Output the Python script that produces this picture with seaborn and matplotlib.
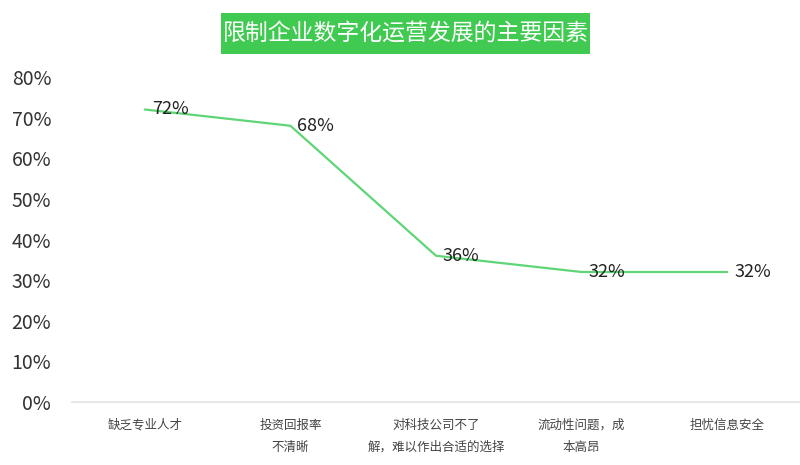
import numpy as np
import pandas as pd
import matplotlib
matplotlib.use('Agg')
import matplotlib.pyplot as plt
from matplotlib.patches import Rectangle
import seaborn as sns

# Chart data
factors = ['缺乏专业人才', '投资回报率不清晰', '对科技公司不了解，难以作出合适的选择',
           '流动性问题，成本高昂', '担忧信息安全']
tick_labels = ['缺乏专业人才', '投资回报率\n不清晰', '对科技公司不了\n解，难以作出合适的选择',
               '流动性问题，成\n本高昂', '担忧信息安全']
shares = [0.72, 0.68, 0.36, 0.32, 0.32]
y_ticks = [0.0, 0.1, 0.2, 0.3, 0.4, 0.5, 0.6, 0.7, 0.8]
title = '限制企业数字化运营发展的主要因素'

sns.set_theme(style='white')
plt.rcParams['font.family'] = ['Noto Sans CJK SC', 'DejaVu Sans']

df = pd.DataFrame({'factor': factors, 'share': shares})

fig = plt.figure(figsize=(8, 4.65), dpi=100)
ax = fig.add_axes([72 / 800, 1 - 402 / 465, 728 / 800, (402 - 77) / 465])

sns.lineplot(data=df, x='factor', y='share', ax=ax, color='#5fd577', linewidth=1.6, sort=False)

# data labels
for i, v in enumerate(shares):
    ax.annotate(f'{v:.0%}', (i, v), xytext=(5, 0), textcoords='offset points',
                ha='left', va='center', fontsize=13, color='#222222')

ax.set_xlim(-0.5, 4.5)
ax.set_ylim(0, 0.8)
ax.set_yticks(y_ticks)
ax.set_yticklabels([f'{t:.0%}' for t in y_ticks], fontsize=14, color='#333333')
ax.set_xticks(range(len(factors)))
ax.set_xticklabels(tick_labels, fontsize=9, color='#444444', linespacing=1.9, va='top')
ax.tick_params(axis='y', length=0, pad=15)
ax.tick_params(axis='x', length=0, pad=12)
ax.set_xlabel('')
ax.set_ylabel('')

for side in ['top', 'right', 'left']:
    ax.spines[side].set_visible(False)
ax.spines['bottom'].set_color('#e3e3e3')
ax.spines['bottom'].set_linewidth(1.2)

# title box
fig.patches.append(Rectangle((221 / 800, 1 - 54 / 465), 369 / 800, 41 / 465,
                             transform=fig.transFigure, facecolor='#40ca51',
                             edgecolor='none', zorder=0))
fig.text(405.5 / 800, 1 - 33.5 / 465, title, ha='center', va='center',
         fontsize=16.5, color='white')

plt.savefig('out.png', dpi=100, facecolor='white')
plt.close()
